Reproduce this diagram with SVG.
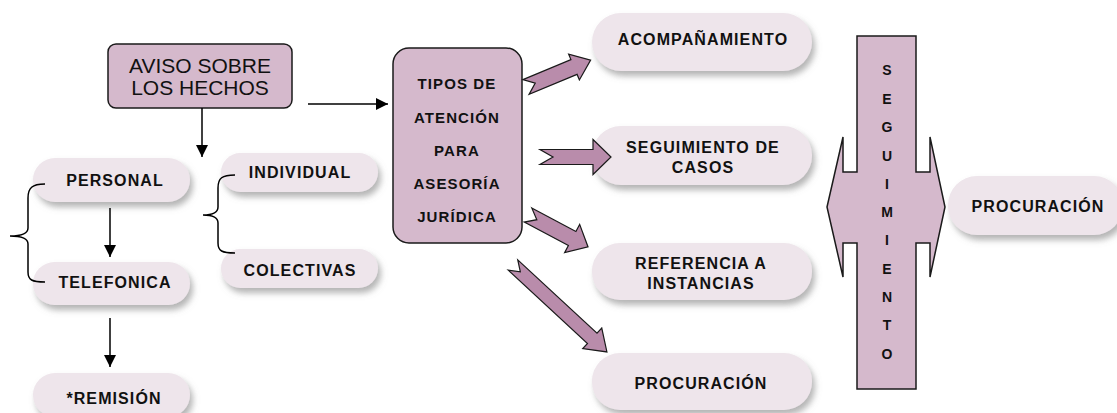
<svg xmlns="http://www.w3.org/2000/svg" width="1117" height="413" viewBox="0 0 1117 413">
<defs>
<filter id="sh" x="-20%" y="-30%" width="140%" height="180%">
<feDropShadow dx="3" dy="5" stdDeviation="3" flood-color="#777" flood-opacity="0.55"/>
</filter>
<marker id="ah" markerWidth="12" markerHeight="12" viewBox="0 0 12 12" refX="12" refY="6" orient="auto" markerUnits="userSpaceOnUse">
<path d="M0,0 L12,6 L0,12 Z" fill="#000"/>
</marker>
<style>
.pill{fill:#eee5eb;filter:url(#sh);}
.box{fill:#d5b9cc;stroke:#1a1a1a;stroke-width:1.5;}
.blk{fill:#b98cab;stroke:#1a1a1a;stroke-width:1.2;stroke-linejoin:miter;}
.t{font-family:"Liberation Sans",Arial,sans-serif;font-weight:bold;font-size:16px;letter-spacing:1.1px;fill:#111;text-anchor:middle;}
.tt{font-family:"Liberation Sans",Arial,sans-serif;font-weight:bold;font-size:15px;letter-spacing:1.1px;fill:#111;text-anchor:middle;}
.ts{font-family:"Liberation Sans",Arial,sans-serif;font-weight:bold;font-size:14px;fill:#111;text-anchor:middle;}
.tav{font-family:"Liberation Sans",Arial,sans-serif;font-size:21px;fill:#111;text-anchor:middle;}
.ln{fill:none;stroke:#000;stroke-width:1.5;}
</style>
</defs>

<g id="aviso">
<rect class="box" x="108" y="44" width="184" height="64" rx="8"/>
<text class="tav" x="200" y="73">AVISO SOBRE</text>
<text class="tav" x="200" y="95">LOS HECHOS</text>
</g>

<g id="personal">
<rect class="pill" x="33" y="158" width="157" height="44" rx="22"/>
<text class="t" x="115" y="186">PERSONAL</text>
</g>
<g id="telefonica">
<rect class="pill" x="33" y="262" width="157" height="43" rx="21.5"/>
<text class="t" x="115" y="288">TELEFONICA</text>
</g>
<g id="remision">
<rect class="pill" x="33" y="373" width="157" height="44" rx="22"/>
<text class="t" x="114" y="404">*REMISIÓN</text>
</g>
<g id="individual">
<rect class="pill" x="221" y="153" width="157" height="39" rx="19.5"/>
<text class="t" x="300" y="178">INDIVIDUAL</text>
</g>
<g id="colectivas">
<rect class="pill" x="221" y="249" width="157" height="39" rx="19.5"/>
<text class="t" x="300" y="276">COLECTIVAS</text>
</g>

<g id="tipos">
<rect class="box" x="393" y="48" width="129" height="195" rx="16"/>
<text class="tt" x="457" y="89">TIPOS DE</text>
<text class="tt" x="457" y="123">ATENCIÓN</text>
<text class="tt" x="457" y="156">PARA</text>
<text class="tt" x="457" y="189">ASESORÍA</text>
<text class="tt" x="457" y="222">JURÍDICA</text>
</g>

<g id="acompanamiento">
<rect class="pill" x="592" y="13" width="220" height="58" rx="29"/>
<text class="t" x="703" y="45">ACOMPAÑAMIENTO</text>
</g>
<g id="seguimiento-casos">
<rect class="pill" x="592" y="126" width="220" height="59" rx="29"/>
<text class="t" x="703" y="153">SEGUIMIENTO DE</text>
<text class="t" x="703" y="173">CASOS</text>
</g>
<g id="referencia">
<rect class="pill" x="592" y="243" width="220" height="57" rx="28"/>
<text class="t" x="701" y="269">REFERENCIA A</text>
<text class="t" x="701" y="289">INSTANCIAS</text>
</g>
<g id="procuracion">
<rect class="pill" x="592" y="353" width="220" height="57" rx="28"/>
<text class="t" x="701" y="389">PROCURACIÓN</text>
</g>

<g id="seguimiento">
<polygon class="box" points="857,36 916,36 916,172 930,172 930,137 945,207 930,277 930,243 916,243 916,389 857,389 857,243 843,243 843,277 827,207 843,137 843,172 857,172"/>
<text class="ts" x="887" y="75">S</text>
<text class="ts" x="887" y="104">E</text>
<text class="ts" x="887" y="132">G</text>
<text class="ts" x="887" y="161">U</text>
<text class="ts" x="887" y="189">I</text>
<text class="ts" x="887" y="217">M</text>
<text class="ts" x="887" y="245">I</text>
<text class="ts" x="887" y="274">E</text>
<text class="ts" x="887" y="302">N</text>
<text class="ts" x="887" y="330">T</text>
<text class="ts" x="887" y="359">O</text>
</g>

<g id="procuracion-right">
<rect class="pill" x="948" y="176" width="175" height="59" rx="29"/>
<text class="t" x="1038" y="212">PROCURACIÓN</text>
</g>

<g id="connectors">
<line class="ln" x1="202" y1="108" x2="202" y2="157" marker-end="url(#ah)"/>
<line class="ln" x1="308" y1="104" x2="388" y2="104" marker-end="url(#ah)"/>
<line class="ln" x1="110" y1="208" x2="110" y2="257" marker-end="url(#ah)"/>
<line class="ln" x1="110" y1="318" x2="110" y2="367" marker-end="url(#ah)"/>
<path class="ln" d="M235,175 C222,175 218,178 218,188 L218,207 C218,213 213,215 203,215 C213,215 218,217 218,223 L218,243 C218,251 222,253 235,253"/>
<path class="ln" d="M45,184 C32,184 28,188 28,198 L28,228 C28,234 20,236 10,236 C20,236 28,238 28,244 L28,272 C28,280 32,282 45,282"/>
<polygon class="blk" transform="translate(526,87) rotate(-22.6)" points="0,-8 52,-8 52,-14 70,0 52,14 52,8 0,8 10,0"/>
<polygon class="blk" transform="translate(540,157)" points="0,-7.5 53,-7.5 53,-17.5 71,0 53,17.5 53,7.5 0,7.5 13,0"/>
<polygon class="blk" transform="translate(528,215) rotate(28)" points="0,-8 50,-8 50,-16 68,0 50,16 50,8 0,8 10,0"/>
<polygon class="blk" transform="translate(513,265) rotate(42.8)" points="0,-7 108,-7 108,-14 128,0 108,14 108,7 0,7 10,0"/>
</g>
</svg>
